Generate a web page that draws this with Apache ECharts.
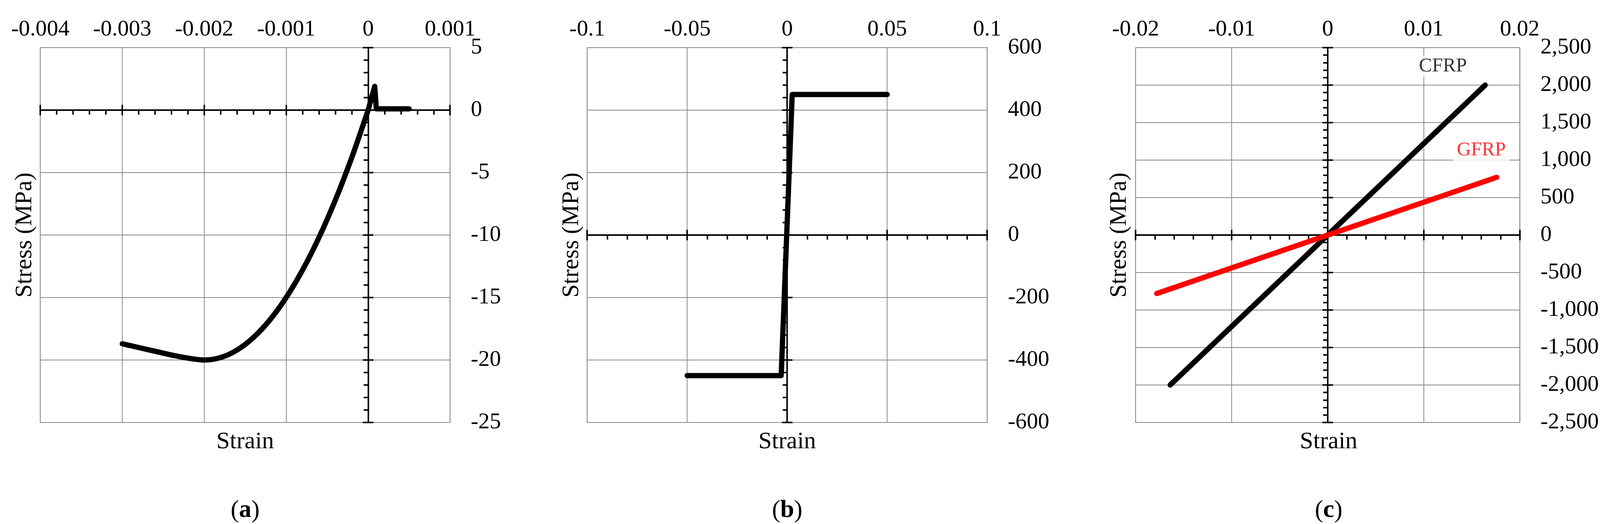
<!DOCTYPE html>
<html>
<head>
<meta charset="utf-8">
<script src="https://cdn.jsdelivr.net/npm/echarts@6/dist/echarts.min.js"></script>
<style>html,body{margin:0;padding:0;background:#fff;overflow:hidden}#chart{width:100vw;height:100vh}</style>
</head>
<body>
<div id="chart"></div>
<script>
// (a) concrete
var concreteStrain = [-0.003, -0.0028, -0.0026, -0.0024, -0.0022, -0.002, -0.0018, -0.0016, -0.0014, -0.0012, -0.001, -0.0008, -0.0006, -0.0004, -0.0002, 0, 0.00008, 0.0001, 0.0005];
var concreteStress = [-18.7, -19.0, -19.3, -19.6, -19.85, -20, -19.8, -19.2, -18.2, -16.8, -15.0, -12.8, -10.2, -7.2, -3.8, 0, 1.9, 0.1, 0.1];
// (b) steel
var steelStrain = [-0.05, -0.003, 0.0025, 0.05];
var steelStress = [-450, -450, 450, 450];
// (c) FRP
var cfrpStrain = [-0.0164, 0.0164];
var cfrpStress = [-2000, 2000];
var gfrpStrain = [-0.0178, 0.0176];
var gfrpStress = [-780, 770];
var frpNames = ['CFRP', 'GFRP'];
var frpLabelPos = [[0.012, 2250], [0.016, 1130]];

var panels = [
    {left: 107, width: 1088, xMin: -0.004, xMax: 0.001, xInt: 0.001, yMin: -25, yMax: 5, yInt: 5, tag: 'a', nameX: 66},
    {left: 1559, width: 1062, xMin: -0.1, xMax: 0.1, xInt: 0.05, yMin: -600, yMax: 600, yInt: 200, tag: 'b', nameX: 1518},
    {left: 3015, width: 1025, xMin: -0.02, xMax: 0.02, xInt: 0.01, yMin: -2500, yMax: 2500, yInt: 500, tag: 'c', nameX: 2972}
];

var FONT = '"Liberation Serif", "DejaVu Serif", serif';
var dom = document.getElementById('chart');
var chart = echarts.init(dom);
var kx = chart.getWidth() / 4248, ky = chart.getHeight() / 1342, k = Math.min(kx, ky);
var grids = [], xAxes = [], yAxes = [], graphics = [];

panels.forEach(function(p, i) {
    grids.push({left: p.left * kx, width: p.width * kx, top: 122 * ky, height: 960 * ky, show: true, borderColor: '#888', borderWidth: 2 * k});
    var tickStyle = {color: '#000', width: 4 * k};
    var base = {gridIndex: i, type: 'value', min: p.xMin, max: p.xMax, interval: p.xInt};
    xAxes.push(Object.assign({}, base, {position: 'top', axisLine: {show: false, onZero: false}, axisTick: {show: false},
        axisLabel: {fontFamily: FONT, fontSize: 60 * k, color: '#000', margin: 46 * ky, verticalAlign: 'middle'},
        splitLine: {show: true, lineStyle: {color: '#888', width: 2 * k}}}));
    xAxes.push(Object.assign({}, base, {position: 'bottom', axisLine: {show: true, onZero: true, lineStyle: {color: '#000', width: 4 * k}},
        axisTick: {show: true, inside: false, length: 14 * k, lineStyle: tickStyle},
        minorTick: {show: true, splitNumber: 5, length: 12 * k, lineStyle: tickStyle},
        axisLabel: {show: false}, splitLine: {show: false}}));
    xAxes.push(Object.assign({}, base, {position: 'bottom', axisLine: {show: false, onZero: true},
        axisTick: {show: true, inside: true, length: 14 * k, lineStyle: tickStyle},
        axisLabel: {show: false}, splitLine: {show: false}}));

    var ybase = {gridIndex: i, type: 'value', min: p.yMin, max: p.yMax, interval: p.yInt};
    yAxes.push(Object.assign({}, ybase, {position: 'right', axisLine: {show: false, onZero: false}, axisTick: {show: false},
        axisLabel: {fontFamily: FONT, fontSize: 60 * k, color: '#000', margin: 55 * kx},
        splitLine: {show: true, lineStyle: {color: '#888', width: 2 * k}}}));
    yAxes.push(Object.assign({}, ybase, {position: 'left', axisLine: {show: true, onZero: true, lineStyle: {color: '#000', width: 4 * k}},
        axisTick: {show: true, inside: false, length: 14 * k, lineStyle: tickStyle},
        minorTick: {show: true, splitNumber: 5, length: 12 * k, lineStyle: tickStyle},
        axisLabel: {show: false}, splitLine: {show: false}}));
    yAxes.push(Object.assign({}, ybase, {position: 'left', axisLine: {show: false, onZero: true},
        axisTick: {show: true, inside: true, length: 14 * k, lineStyle: tickStyle},
        axisLabel: {show: false}, splitLine: {show: false}}));

    var cx = (p.left + p.width / 2) * kx;
    graphics.push({type: 'text', x: p.nameX * kx, y: 602 * ky, rotation: Math.PI / 2,
        style: {text: 'Stress (MPa)', font: (64 * k) + 'px ' + FONT, fill: '#000', textAlign: 'center', textVerticalAlign: 'middle'}});
    graphics.push({type: 'text', x: cx, y: 1132 * ky,
        style: {text: 'Strain', font: (64 * k) + 'px ' + FONT, fill: '#000', textAlign: 'center', textVerticalAlign: 'middle'}});
    graphics.push({type: 'text', x: cx, y: 1308 * ky,
        style: {text: '({b|' + p.tag + '})', font: (66 * k) + 'px ' + FONT, fill: '#000', textAlign: 'center', textVerticalAlign: 'middle',
            rich: {b: {fontWeight: 'bold', fontSize: 66 * k, fontFamily: FONT}}}});
});

function pairs(xs, ys) {
    return xs.map(function(x, j) { return [x, ys[j]]; });
}
function lineSeries(idx, xs, ys, color, smooth) {
    return {type: 'line', xAxisIndex: idx * 3 + 1, yAxisIndex: idx * 3 + 1, data: pairs(xs, ys), showSymbol: false,
        smooth: smooth, lineStyle: {color: color, width: 14 * k, cap: 'round', join: 'round'}, z: 5};
}

chart.setOption({
    backgroundColor: '#fff',
    animation: false,
    grid: grids,
    xAxis: xAxes,
    yAxis: yAxes,
    graphic: graphics,
    series: [
        lineSeries(0, concreteStrain.slice(0, 16), concreteStress.slice(0, 16), '#000', 0.3),
        lineSeries(0, concreteStrain.slice(15), concreteStress.slice(15), '#000', false),
        lineSeries(1, steelStrain, steelStress, '#000', false),
        lineSeries(2, cfrpStrain, cfrpStress, '#000', false),
        lineSeries(2, gfrpStrain, gfrpStress, '#ff0000', false),
        {type: 'scatter', xAxisIndex: 7, yAxisIndex: 7, symbolSize: 0, z: 6,
            data: frpLabelPos.map(function(pt, j) {
                return {value: pt, label: {show: true, position: 'inside', formatter: frpNames[j], fontFamily: FONT, fontSize: 52 * k,
                    color: j === 0 ? '#000' : '#ff0000', backgroundColor: '#fff', padding: [2 * k, 10 * k]}};
            })}
    ]
});
</script>
</body>
</html>
